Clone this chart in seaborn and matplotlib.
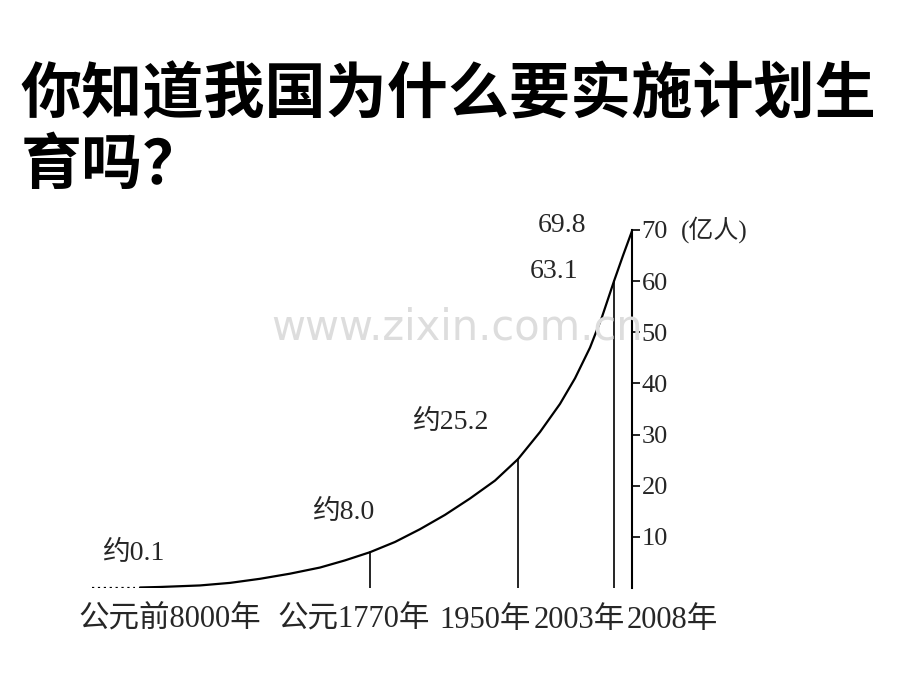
import matplotlib
matplotlib.use("Agg")
import matplotlib.pyplot as plt
import seaborn as sns
import pandas as pd

sns.set_theme(style="white")
plt.rcParams['font.family'] = ['Noto Sans CJK SC', 'DejaVu Sans']

# curve positions along the (non-linear) time axis and population values (亿人)
curve_pos = [140, 160, 180, 200, 230, 260, 290, 320, 345, 370, 395, 420, 445, 470,
             495, 518, 540, 560, 575, 590, 602, 614, 623, 632]
curve_val = [0.1, 0.2, 0.35, 0.5, 1.0, 1.8, 2.8, 4.0, 5.4, 7.0, 9.0, 11.5, 14.3, 17.5,
             21.0, 25.2, 30.5, 36, 41, 47, 53, 60, 65, 69.8]
years = ["公元前8000年", "公元1770年", "1950年", "2003年", "2008年"]
year_pos = [140, 370, 518, 614, 632]
year_label_x = [170, 354, 485, 579, 672]
marks = ["约0.1", "约8.0", "约25.2", "63.1", "69.8"]
mark_val = [0.1, 7.0, 25.2, 60, 69.8]
yticks = [10, 20, 30, 40, 50, 60, 70]
serif = ['Liberation Serif', 'Noto Sans CJK SC']

fig = plt.figure(figsize=(9.2, 6.9), dpi=100)
fig.text(0.022, 0.835, "你知道我国为什么要实施计划生", fontsize=44, fontweight="heavy", color="black")
fig.text(0.022, 0.733, "育吗？", fontsize=44, fontweight="heavy", color="black")
fig.text(0.497, 0.525, "www.zixin.com.cn", fontsize=30, color="#dddddd",
         ha="center", va="center", family="DejaVu Sans", zorder=0)

ax = fig.add_axes([90 / 920, 1 - 588 / 690, (632 - 90) / 920, (588 - 230) / 690])
df = pd.DataFrame({"x": curve_pos, "y": curve_val})
sns.lineplot(data=df, x="x", y="y", ax=ax, color="black", lw=1.6)
ax.plot([92, 135], [0, 0], ls=":", color="black", lw=1.6)
for p, v in zip(year_pos[1:4], mark_val[1:4]):
    ax.plot([p, p], [0, v], color="black", lw=1.2)
ax.set_xlim(90, 632)
ax.set_ylim(0, 70)
for s in ["left", "top", "bottom"]:
    ax.spines[s].set_visible(False)
ax.spines["right"].set_color("black")
ax.spines["right"].set_linewidth(1.5)
ax.yaxis.tick_right()
ax.set_yticks(yticks)
ax.set_yticklabels([str(t) for t in yticks], fontsize=19, family="Liberation Serif")
ax.tick_params(axis="y", direction="out", length=6, width=1.2, color="black", pad=1)
ax.set_xticks([])
ax.set_xlabel("")
ax.set_ylabel("")
ax.text(1.09, 70, "(亿人)", transform=ax.get_yaxis_transform(), fontsize=18, va="center", family=serif)

label_xy = [(102, 553), (312, 512), (412, 422), (530, 272), (538, 225)]
for t, (lx, ly) in zip(marks, label_xy):
    fig.text(lx / 920, 1 - ly / 690, t, fontsize=20, va="center", family=serif)
for t, lx in zip(years, year_label_x):
    fig.text(lx / 920, 1 - 620 / 690, t, fontsize=22, ha="center", va="center", family=serif)

fig.savefig("out.png", dpi=100)
